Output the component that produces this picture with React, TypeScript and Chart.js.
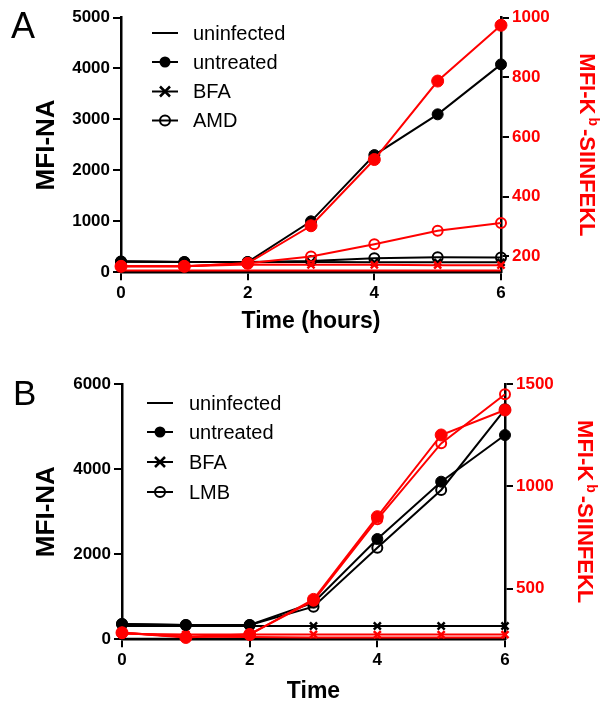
import React, { useEffect, useRef } from 'react';
import { Chart, registerables } from 'chart.js';
Chart.register(...registerables);

// ---------- data ----------
const hours = [0, 1, 2, 3, 4, 5, 6];
const xTickValues = [0, 2, 4, 6];

// Panel A (left axis MFI-NA, right axis MFI-Kb-SIINFEKL)
const aLegend = ['uninfected', 'untreated', 'BFA', 'AMD'];
const aUninfectedNA = [10, 10, 10, 10, 10, 10, 10];
const aUntreatedNA = [210, 200, 200, 1000, 2300, 3100, 4080];
const aBFANA = [210, 200, 200, 200, 195, 195, 195];
const aAMDNA = [210, 200, 200, 220, 275, 295, 290];
const aUninfectedK = [152, 152, 152, 152, 152, 152, 152];
const aUntreatedK = [166, 166, 176, 302, 524, 787, 974];
const aBFAK = [166, 166, 172, 171, 171, 170, 170];
const aAMDK = [166, 166, 176, 199, 240, 285, 311];
const aLeftTicks = [0, 1000, 2000, 3000, 4000, 5000];
const aRightTicks = [200, 400, 600, 800, 1000];

// Panel B
const bLegend = ['uninfected', 'untreated', 'BFA', 'LMB'];
const bUninfectedNA = [15, 15, 15, 15, 15, 15, 15];
const bUntreatedNA = [360, 335, 335, 860, 2357, 3704, 4800];
const bBFANA = [315, 313, 313, 313, 313, 313, 313];
const bLMBNA = [360, 335, 335, 766, 2153, 3509, 5405];
const bUninfectedK = [285, 266, 264, 262, 262, 262, 262];
const bUntreatedK = [285, 262, 276, 448, 852, 1251, 1373];
const bBFAK = [280, 277, 277, 277, 276, 276, 276];
const bLMBK = [285, 265, 278, 441, 839, 1210, 1450];
const bLeftTicks = [0, 2000, 4000, 6000];
const bRightTicks = [500, 1000, 1500];

const FONT = '"Liberation Sans", Arial, Helvetica, sans-serif';
const RED = '#ff0000';
const BLACK = '#000000';

function pts(ys: number[]) {
  return hours.map((x, i) => ({ x, y: ys[i] }));
}

type PanelCfg = {
  width: number;
  height: number;
  left: number;
  right: number;
  top: number;
  bottom: number;
  letter: string;
  letterX: number;
  letterY: number;
  letterSize: number;
  xTitle: string;
  xTitleY: number;
  leftTitleX: number;
  rightTitleX: number;
  legend: string[];
  legendLineX1: number;
  legendLineX2: number;
  legendTextX: number;
  legendYs: number[];
  leftMax: number;
  leftTicks: number[];
  rightMin: number;
  rightMax: number;
  rightTicks: number[];
  series: {
    uninfNA: number[];
    untrNA: number[];
    bfaNA: number[];
    thirdNA: number[];
    uninfK: number[];
    untrK: number[];
    bfaK: number[];
    thirdK: number[];
  };
};

function drawMarker(ctx: CanvasRenderingContext2D, kind: number, x: number, y: number) {
  ctx.save();
  ctx.strokeStyle = BLACK;
  ctx.fillStyle = BLACK;
  if (kind === 1) {
    ctx.beginPath();
    ctx.arc(x, y, 5.5, 0, Math.PI * 2);
    ctx.fill();
  } else if (kind === 2) {
    ctx.lineWidth = 2.5;
    const r = 5;
    ctx.beginPath();
    ctx.moveTo(x - r, y - r);
    ctx.lineTo(x + r, y + r);
    ctx.moveTo(x + r, y - r);
    ctx.lineTo(x - r, y + r);
    ctx.stroke();
  } else if (kind === 3) {
    ctx.lineWidth = 2;
    ctx.beginPath();
    ctx.arc(x, y, 5, 0, Math.PI * 2);
    ctx.stroke();
  }
  ctx.restore();
}

function makeDecor(cfg: PanelCfg) {
  return {
    id: 'decor',
    afterDraw(chart: any) {
      const ctx: CanvasRenderingContext2D = chart.ctx;
      const area = chart.chartArea;
      const cy = (area.top + area.bottom) / 2;
      const cx = (area.left + area.right) / 2;
      ctx.save();
      // panel letter
      ctx.fillStyle = BLACK;
      ctx.font = `${cfg.letterSize}px ${FONT}`;
      ctx.textAlign = 'left';
      ctx.textBaseline = 'alphabetic';
      ctx.fillText(cfg.letter, cfg.letterX, cfg.letterY);

      // x title
      ctx.font = `bold 23px ${FONT}`;
      ctx.textAlign = 'center';
      ctx.textBaseline = 'middle';
      ctx.fillText(cfg.xTitle, cx, cfg.xTitleY);

      // left title
      ctx.save();
      ctx.translate(cfg.leftTitleX, cy);
      ctx.rotate(-Math.PI / 2);
      ctx.font = `bold 26px ${FONT}`;
      ctx.textAlign = 'center';
      ctx.textBaseline = 'middle';
      ctx.fillText('MFI-NA', 0, 0);
      ctx.restore();

      // right title with superscript b
      ctx.save();
      ctx.translate(cfg.rightTitleX, cy);
      ctx.rotate(Math.PI / 2);
      ctx.fillStyle = RED;
      ctx.textBaseline = 'middle';
      ctx.textAlign = 'left';
      const big = `bold 22px ${FONT}`;
      const small = `bold 14px ${FONT}`;
      ctx.font = big;
      const p1 = 'MFI-K';
      const p3 = '-SIINFEKL';
      const w1 = ctx.measureText(p1).width;
      const w3 = ctx.measureText(p3).width;
      ctx.font = small;
      const w2 = ctx.measureText('b').width;
      const gap = 3;
      const total = w1 + gap + w2 + gap + w3;
      let sx = -total / 2;
      ctx.font = big;
      ctx.fillText(p1, sx, 0);
      sx += w1 + gap;
      ctx.font = small;
      ctx.fillText('b', sx, -7);
      sx += w2 + gap;
      ctx.font = big;
      ctx.fillText(p3, sx, 0);
      ctx.restore();

      // legend
      ctx.font = `20px ${FONT}`;
      ctx.textAlign = 'left';
      ctx.textBaseline = 'middle';
      cfg.legend.forEach((label, i) => {
        const y = cfg.legendYs[i];
        ctx.strokeStyle = BLACK;
        ctx.lineWidth = 2;
        ctx.beginPath();
        ctx.moveTo(cfg.legendLineX1, y);
        ctx.lineTo(cfg.legendLineX2, y);
        ctx.stroke();
        drawMarker(ctx, i, (cfg.legendLineX1 + cfg.legendLineX2) / 2, y);
        ctx.fillStyle = BLACK;
        ctx.fillText(label, cfg.legendTextX, y + 1);
      });
      ctx.restore();
    },
  };
}

function Panel({ cfg }: { cfg: PanelCfg }) {
  const ref = useRef<HTMLCanvasElement | null>(null);
  useEffect(() => {
    if (!ref.current) return;
    const s = cfg.series;
    const line = (data: number[], color: string, axis: string, extra: any) => ({
      data: pts(data),
      borderColor: color,
      backgroundColor: color,
      borderWidth: 2,
      pointBorderColor: color,
      yAxisID: axis,
      clip: false,
      tension: 0,
      ...extra,
    });
    const filled = { pointStyle: 'circle', pointRadius: 5.5, pointBorderWidth: 1, pointBackgroundColor: undefined };
    const cross = { pointStyle: 'crossRot', pointRadius: 5, pointBorderWidth: 2.5 };
    const open = { pointStyle: 'circle', pointRadius: 5, pointBorderWidth: 2, pointBackgroundColor: 'rgba(0,0,0,0)' };
    const none = { pointRadius: 0 };
    const tickFont = { family: FONT, size: 17, weight: 'bold' as const };
    const chart = new Chart(ref.current, {
      type: 'line',
      data: {
        datasets: [
          line(s.untrK, RED, 'y2', { ...filled, pointRadius: 6, pointBackgroundColor: RED }),
          line(s.thirdK, RED, 'y2', open),
          line(s.bfaK, RED, 'y2', cross),
          line(s.uninfK, RED, 'y2', none),
          line(s.untrNA, BLACK, 'y', { ...filled, pointBackgroundColor: BLACK }),
          line(s.thirdNA, BLACK, 'y', open),
          line(s.bfaNA, BLACK, 'y', cross),
          line(s.uninfNA, BLACK, 'y', none),
        ] as any,
      },
      options: {
        responsive: false,
        animation: false,
        devicePixelRatio: 1,
        layout: { padding: { top: cfg.top, left: 0, right: 0, bottom: 0 } },
        plugins: { legend: { display: false }, tooltip: { enabled: false }, title: { display: false } },
        scales: {
          x: {
            type: 'linear',
            min: 0,
            max: 6,
            afterBuildTicks: (sc: any) => {
              sc.ticks = xTickValues.map((v) => ({ value: v }));
            },
            ticks: { color: BLACK, font: tickFont, padding: 3, maxRotation: 0, callback: (v: any) => String(v) },
            grid: { drawOnChartArea: false, drawTicks: true, tickLength: 8, color: BLACK, lineWidth: 2 },
            border: { display: true, color: BLACK, width: 2.5 },
            afterFit: (sc: any) => {
              sc.height = cfg.height - cfg.bottom;
            },
          },
          y: {
            type: 'linear',
            position: 'left',
            min: 0,
            max: cfg.leftMax,
            afterBuildTicks: (sc: any) => {
              sc.ticks = cfg.leftTicks.map((v) => ({ value: v }));
            },
            ticks: { color: BLACK, font: tickFont, padding: 3, callback: (v: any) => String(v) },
            grid: { drawOnChartArea: false, drawTicks: true, tickLength: 8, color: BLACK, lineWidth: 2 },
            border: { display: true, color: BLACK, width: 2.5 },
            afterFit: (sc: any) => {
              sc.width = cfg.left;
            },
          },
          y2: {
            type: 'linear',
            position: 'right',
            min: cfg.rightMin,
            max: cfg.rightMax,
            afterBuildTicks: (sc: any) => {
              sc.ticks = cfg.rightTicks.map((v) => ({ value: v }));
            },
            ticks: { color: RED, font: tickFont, padding: 3, callback: (v: any) => String(v) },
            grid: { drawOnChartArea: false, drawTicks: true, tickLength: 8, color: BLACK, lineWidth: 2 },
            border: { display: true, color: BLACK, width: 2.5 },
            afterFit: (sc: any) => {
              sc.width = cfg.width - cfg.right;
            },
          },
        },
      } as any,
      plugins: [makeDecor(cfg)],
    });
    return () => chart.destroy();
  }, [cfg]);
  return <canvas ref={ref} width={cfg.width} height={cfg.height} style={{ display: 'block', width: cfg.width, height: cfg.height }} />;
}

const panelA: PanelCfg = {
  width: 611,
  height: 350,
  left: 121,
  right: 501,
  top: 17.5,
  bottom: 272.3,
  letter: 'A',
  letterX: 11,
  letterY: 38,
  letterSize: 36,
  xTitle: 'Time (hours)',
  xTitleY: 322,
  leftTitleX: 47,
  rightTitleX: 586,
  legend: aLegend,
  legendLineX1: 152,
  legendLineX2: 178,
  legendTextX: 193,
  legendYs: [33, 62, 91.5, 120.5],
  leftMax: 5000,
  leftTicks: aLeftTicks,
  rightMin: 146,
  rightMax: 1000,
  rightTicks: aRightTicks,
  series: {
    uninfNA: aUninfectedNA,
    untrNA: aUntreatedNA,
    bfaNA: aBFANA,
    thirdNA: aAMDNA,
    uninfK: aUninfectedK,
    untrK: aUntreatedK,
    bfaK: aBFAK,
    thirdK: aAMDK,
  },
};

const panelB: PanelCfg = {
  width: 611,
  height: 362,
  left: 122,
  right: 505,
  top: 34,
  bottom: 289.3,
  letter: 'B',
  letterX: 13,
  letterY: 55,
  letterSize: 35,
  xTitle: 'Time',
  xTitleY: 341.5,
  leftTitleX: 47,
  rightTitleX: 584,
  legend: bLegend,
  legendLineX1: 147,
  legendLineX2: 173,
  legendTextX: 189,
  legendYs: [53, 82, 112, 142],
  leftMax: 6000,
  leftTicks: bLeftTicks,
  rightMin: 253,
  rightMax: 1500,
  rightTicks: bRightTicks,
  series: {
    uninfNA: bUninfectedNA,
    untrNA: bUntreatedNA,
    bfaNA: bBFANA,
    thirdNA: bLMBNA,
    uninfK: bUninfectedK,
    untrK: bUntreatedK,
    bfaK: bBFAK,
    thirdK: bLMBK,
  },
};

export default function App() {
  return (
    <div style={{ position: 'absolute', left: 0, top: 0, width: 611, height: 712, background: '#fff' }}>
      <Panel cfg={panelA} />
      <Panel cfg={panelB} />
    </div>
  );
}
